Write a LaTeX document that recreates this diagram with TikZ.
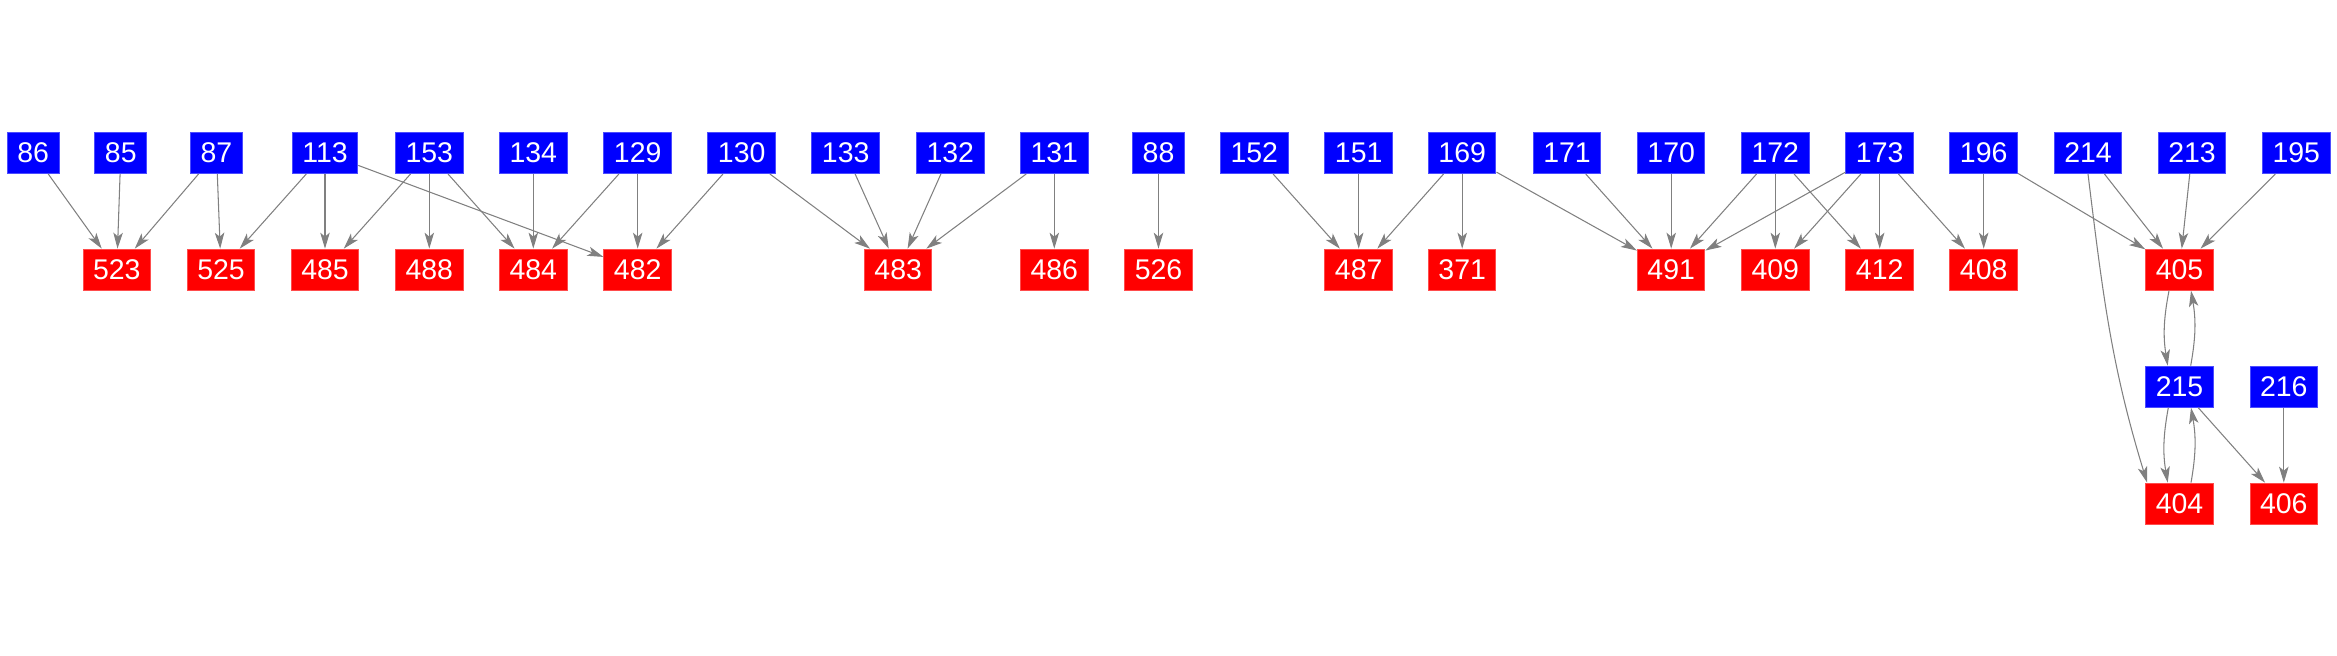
\documentclass[tikz,border=0pt]{standalone}
\usepackage{fontspec}
\setmainfont{Liberation Sans}
\usetikzlibrary{arrows.meta}
\begin{document}
\begin{tikzpicture}[
    every node/.style={rectangle, inner xsep=0.1cm, inner ysep=0pt, minimum height=0.41cm,
      text=white, font=\fontsize{8.1}{9}\selectfont},
    src/.style={fill=blue, draw=blue!70!white, line width=0.3pt},
    snk/.style={fill=red, draw=red!70!white, line width=0.3pt},
    >={Stealth[length=0.16cm,width=0.095cm,inset=0.04cm]}
  ]
  \useasboundingbox (0,0) rectangle (23.37,6.56);
  \draw
    (0.332,5.03) node[src] (86){86}
    (1.208,5.03) node[src] (85){85}
    (2.165,5.03) node[src] (87){87}
    (3.25,5.03) node[src] (113){113}
    (4.293,5.03) node[src] (153){153}
    (5.333,5.03) node[src] (134){134}
    (6.377,5.03) node[src] (129){129}
    (7.417,5.03) node[src] (130){130}
    (8.457,5.03) node[src] (133){133}
    (9.503,5.03) node[src] (132){132}
    (10.543,5.03) node[src] (131){131}
    (11.585,5.03) node[src] (88){88}
    (12.543,5.03) node[src] (152){152}
    (13.587,5.03) node[src] (151){151}
    (14.622,5.03) node[src] (169){169}
    (15.67,5.03) node[src] (171){171}
    (16.712,5.03) node[src] (170){170}
    (17.753,5.03) node[src] (172){172}
    (18.797,5.03) node[src] (173){173}
    (19.837,5.03) node[src] (196){196}
    (20.88,5.03) node[src] (214){214}
    (21.92,5.03) node[src] (213){213}
    (22.963,5.03) node[src] (195){195}
    (1.168,3.863) node[snk] (523){523}
    (2.21,3.863) node[snk] (525){525}
    (3.25,3.863) node[snk] (485){485}
    (4.293,3.863) node[snk] (488){488}
    (5.333,3.863) node[snk] (484){484}
    (6.377,3.863) node[snk] (482){482}
    (8.982,3.863) node[snk] (483){483}
    (10.543,3.863) node[snk] (486){486}
    (11.585,3.863) node[snk] (526){526}
    (13.587,3.863) node[snk] (487){487}
    (14.622,3.863) node[snk] (371){371}
    (16.712,3.863) node[snk] (491){491}
    (17.753,3.863) node[snk] (409){409}
    (18.797,3.863) node[snk] (412){412}
    (19.837,3.863) node[snk] (408){408}
    (21.795,3.863) node[snk] (405){405}
    (21.795,2.693) node[src] (215){215}
    (22.838,2.693) node[src] (216){216}
    (21.795,1.523) node[snk] (404){404}
    (22.838,1.523) node[snk] (406){406};
  \begin{scope}[->, draw=gray, line width=0.3pt]
    \draw (86) to (523);
    \draw (85) to (523);
    \draw (87) to (523);
    \draw (87) to (525);
    \draw (113) to (525);
    \draw (113) to (485);
    \draw (113) to (482);
    \draw (153) to (485);
    \draw (153) to (488);
    \draw (153) to (484);
    \draw (134) to (484);
    \draw (129) to (484);
    \draw (129) to (482);
    \draw (130) to (482);
    \draw (130) to (483);
    \draw (133) to (483);
    \draw (132) to (483);
    \draw (131) to (483);
    \draw (131) to (486);
    \draw (88) to (526);
    \draw (152) to (487);
    \draw (151) to (487);
    \draw (169) to (487);
    \draw (169) to (371);
    \draw (169) to (491);
    \draw (171) to (491);
    \draw (170) to (491);
    \draw (172) to (491);
    \draw (172) to (409);
    \draw (172) to (412);
    \draw (173) to (491);
    \draw (173) to (409);
    \draw (173) to (412);
    \draw (173) to (408);
    \draw (196) to (408);
    \draw (196) to (405);
    \draw (214) to (405);
    \draw (214.south) to[out=-83,in=107] (404.147);
    \draw (213) to (405);
    \draw (195) to (405);
    \draw ([xshift=-0.105cm]405.south) to[bend right=10] ([xshift=-0.118cm]215.north);
    \draw ([xshift=0.112cm]215.north) to[bend right=10] ([xshift=0.115cm]405.south);
    \draw ([xshift=-0.112cm]215.south) to[bend right=10] ([xshift=-0.118cm]404.north);
    \draw ([xshift=0.115cm]404.north) to[bend right=10] ([xshift=0.115cm]215.south);
    \draw (215) to (406);
    \draw (216) to (406);
  \end{scope}
\end{tikzpicture}
\end{document}
